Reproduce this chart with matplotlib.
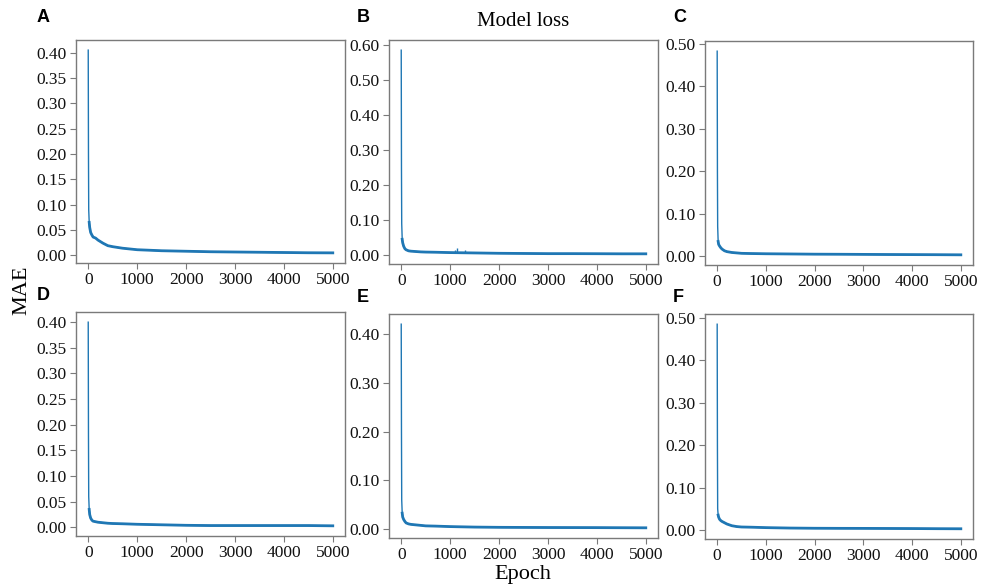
import matplotlib
matplotlib.use("Agg")
import matplotlib.pyplot as plt
from matplotlib.ticker import MultipleLocator, FormatStrFormatter

plt.rcParams['font.family'] = ['Liberation Serif', 'DejaVu Serif']

# ---- data (epoch, MAE) ----
epochs = [0, 5, 10, 20, 30, 50, 75, 100, 150, 200, 300, 400, 500, 700,
          1000, 1500, 2000, 2500, 3000, 3500, 4000, 4500, 4999]

loss_A = [0.405, 0.20, 0.09, 0.065, 0.055, 0.045, 0.040, 0.036, 0.034, 0.030,
          0.024, 0.019, 0.017, 0.014, 0.011, 0.009, 0.008, 0.007, 0.0065,
          0.006, 0.0055, 0.005, 0.0048]
loss_B = [0.585, 0.25, 0.09, 0.045, 0.035, 0.025, 0.018, 0.015, 0.012, 0.011,
          0.010, 0.009, 0.0085, 0.008, 0.007, 0.006, 0.005, 0.0045, 0.004,
          0.004, 0.0038, 0.0035, 0.0035]
loss_C = [0.483, 0.20, 0.07, 0.035, 0.028, 0.024, 0.020, 0.017, 0.013, 0.011,
          0.009, 0.008, 0.007, 0.0065, 0.006, 0.0055, 0.005, 0.0048, 0.0045,
          0.0042, 0.004, 0.0038, 0.0035]
loss_D = [0.400, 0.18, 0.06, 0.035, 0.025, 0.018, 0.014, 0.012, 0.011, 0.010,
          0.009, 0.008, 0.0075, 0.007, 0.006, 0.005, 0.004, 0.0035, 0.0035,
          0.0035, 0.0035, 0.0035, 0.003]
loss_E = [0.420, 0.20, 0.06, 0.033, 0.025, 0.020, 0.016, 0.013, 0.011, 0.010,
          0.009, 0.008, 0.007, 0.0065, 0.0055, 0.0045, 0.004, 0.0038, 0.0036,
          0.0035, 0.0034, 0.0032, 0.003]
loss_F = [0.485, 0.20, 0.05, 0.035, 0.030, 0.025, 0.022, 0.020, 0.017, 0.014,
          0.010, 0.008, 0.007, 0.0065, 0.0055, 0.0045, 0.004, 0.0038, 0.0037,
          0.0035, 0.0033, 0.003, 0.0028]

# small spikes visible in the tails (epoch, peak value, baseline value)
spikes_B_ep = [1100, 1150, 1300, 1550, 1700]
spikes_B_val = [0.015, 0.019, 0.013, 0.010, 0.009]
spikes_B_base = [0.0068, 0.0067, 0.0064, 0.006, 0.0058]
spikes_F_ep = [2530]
spikes_F_val = [0.008]
spikes_F_base = [0.0038]

panel_labels = ['A', 'B', 'C', 'D', 'E', 'F']
y_steps = [0.05, 0.10, 0.10, 0.05, 0.10, 0.10]
x_ticks = [0, 1000, 2000, 3000, 4000, 5000]

series = [loss_A, loss_B, loss_C, loss_D, loss_E, loss_F]

W, H = 982, 587
fig = plt.figure(figsize=(W / 100, H / 100), dpi=100)

# axes boxes in pixels (left, top, right, bottom)
boxes = [(76, 40, 345, 263), (389, 40, 658, 264), (705, 41, 973, 265),
         (76, 312, 345, 536), (389, 314, 658, 538), (705, 314, 973, 539)]
label_pos = [(37, 18), (357, 18), (673, 18), (37, 296), (357, 298), (673, 298)]

line_color = '#1f77b4'
spine_color = '#7a7a7a'

for i, (box, vals) in enumerate(zip(boxes, series)):
    l, t, r, b = box
    ax = fig.add_axes([l / W, 1 - b / H, (r - l) / W, (b - t) / H])
    ax.plot(epochs, vals, color=line_color, lw=1.0)
    # thicker tail to mimic the noisy band
    ax.plot(epochs[3:], vals[3:], color=line_color, lw=2.0)
    if i == 1:
        ax.vlines(spikes_B_ep, spikes_B_base, spikes_B_val, color=line_color, lw=1.0)
    if i == 5:
        ax.vlines(spikes_F_ep, spikes_F_base, spikes_F_val, color=line_color, lw=1.2)
    ax.set_xticks(x_ticks)
    ax.yaxis.set_major_locator(MultipleLocator(y_steps[i]))
    ax.yaxis.set_major_formatter(FormatStrFormatter('%.2f'))
    ax.tick_params(labelsize=12.5, colors=spine_color, labelcolor='#111111',
                   length=4, width=0.8, pad=2.5)
    for s in ax.spines.values():
        s.set_color(spine_color)
        s.set_linewidth(1.0)
    fig.text(label_pos[i][0] / W, 1 - label_pos[i][1] / H, panel_labels[i],
             family='Liberation Sans', weight='bold', fontsize=13,
             ha='left', va='center')
    if i == 1:
        ax.set_title('Model loss', fontsize=15, pad=10)

fig.text(22 / W, 1 - 290 / H, 'MAE', rotation=90, fontsize=16,
         ha='center', va='center')
fig.text(523 / W, 1 - 574 / H, 'Epoch', fontsize=16, ha='center', va='center')

fig.savefig('out.png', dpi=100)
